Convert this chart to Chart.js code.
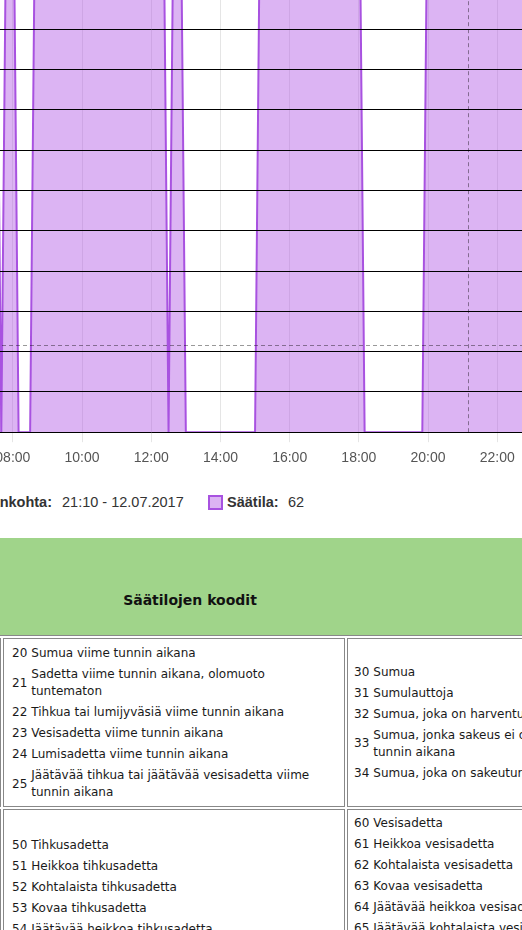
<!DOCTYPE html>
<html lang="fi">
<head>
<meta charset="utf-8">
<script src="https://cdn.jsdelivr.net/npm/chart.js@4"></script>
<style>
html,body{margin:0;padding:0;background:#fff;width:522px;height:930px;overflow:hidden;position:relative;}
#chartBox{position:absolute;left:0;top:0;}
.info{position:absolute;top:493px;line-height:18px;font-size:14.5px;font-family:'Liberation Sans',Arial,Helvetica,sans-serif;color:#333;white-space:nowrap;}
#box{position:absolute;left:208px;top:495px;width:15px;height:15px;box-sizing:border-box;border:2px solid rgb(168,82,224);background:rgba(177,88,228,0.45);}
#head{position:absolute;left:-352px;top:538px;width:1084px;height:97px;background:#a0d48a;text-align:center;box-sizing:border-box;padding-top:54px;line-height:20px;font:bold 14px 'DejaVu Sans',Verdana,sans-serif;color:#111;}
#codes{position:absolute;left:-352px;top:635px;border:1px solid #888;padding:2px;display:grid;grid-template-columns:350px 342px 382px;gap:2px;}
.cell{border:1px solid #888;padding:2px 1px;display:flex;align-items:center;box-sizing:border-box;overflow:hidden;}
.nt{border-collapse:separate;border-spacing:2px;font-size:12px;font-family:'DejaVu Sans',Verdana,sans-serif;line-height:17px;color:#1a1a1a;}
.nt td{padding:1px;vertical-align:middle;white-space:nowrap;}
.c1 .nt{margin-left:4px;margin-top:1px;}
.c2 .nt{margin-left:2px;}
</style>
</head>
<body>
<div id="chartBox"><canvas id="c" width="1000" height="900"></canvas></div>

<div class="info" style="left:-120px;width:172px;text-align:right;font-weight:bold;">Ajankohta:</div>
<div class="info" id="when" style="left:62px;"></div>
<div id="box"></div>
<div class="info" style="left:227px;font-weight:bold;">Säätila:</div>
<div class="info" id="val" style="left:288px;"></div>

<div id="head">Säätilojen koodit</div>
<div id="codes"></div>

<script>
// ---- chart data (10 minute observations, 12.07.2017) ----
const obsDate = '12.07.2017';
const times = [
 '06:00','06:10','06:20','06:30','06:40','06:50',
 '07:00','07:10','07:20','07:30','07:40','07:50',
 '08:00','08:10','08:20','08:30','08:40','08:50',
 '09:00','09:10','09:20','09:30','09:40','09:50',
 '10:00','10:10','10:20','10:30','10:40','10:50',
 '11:00','11:10','11:20','11:30','11:40','11:50',
 '12:00','12:10','12:20','12:30','12:40','12:50',
 '13:00','13:10','13:20','13:30','13:40','13:50',
 '14:00','14:10','14:20','14:30','14:40','14:50',
 '15:00','15:10','15:20','15:30','15:40','15:50',
 '16:00','16:10','16:20','16:30','16:40','16:50',
 '17:00','17:10','17:20','17:30','17:40','17:50',
 '18:00','18:10','18:20','18:30','18:40','18:50',
 '19:00','19:10','19:20','19:30','19:40','19:50',
 '20:00','20:10','20:20','20:30','20:40','20:50',
 '21:00','21:10','21:20','21:30','21:40','21:50',
 '22:00','22:10','22:20','22:30','22:40','22:50',
 '23:00'
];
const saatila = [
 61,61,62,62,61,61,
 61,62,62,61, 0,61,
 61, 0, 0, 0,61,61,
 62,62,62,63,62,62,
 62,61,61,62,62,62,
 61,61,61,62,62,61,
 61,61,61, 0,61,61,
  0, 0, 0, 0, 0, 0,
  0, 0, 0, 0, 0, 0,
  0,61,61,62,62,62,
 63,62,62,61,61,62,
 62,62,61,61,61,61,
 61, 0, 0, 0, 0, 0,
  0, 0, 0, 0, 0, 0,
 61,61,62,62,62,62,
 62,62,62,61,61,61,
 61,61,61,61,61,61,
 61
];
const tickLabels = ['00:00','02:00','04:00','06:00','08:00','10:00','12:00','14:00','16:00','18:00','20:00','22:00','24:00'];
const cursorTime = '21:10';
const cursorY = 8.6;
const X_MIN = '00:00', X_MAX = '24:00';
const Y_MAX = 72, Y_STEP = 4;

// ---- code table content ----
const codesRow1 = [
 [['00','Ei merkittäviä sääilmiöitä'],['01','Pilvisyys vähentynyt'],['02','Pilvisyys ennallaan'],['03','Pilvisyys lisääntynyt'],['04','Auerta, savua tai pölyä'],['05','Auerta, savua tai pölyä, näkyvyys alle 1 km'],['10','Utua']],
 [['20','Sumua viime tunnin aikana'],['21','Sadetta viime tunnin aikana, olomuoto<br>tuntematon'],['22','Tihkua tai lumijyväsiä viime tunnin aikana'],['23','Vesisadetta viime tunnin aikana'],['24','Lumisadetta viime tunnin aikana'],['25','Jäätävää tihkua tai jäätävää vesisadetta viime<br>tunnin aikana']],
 [['30','Sumua'],['31','Sumulauttoja'],['32','Sumua, joka on harventunut viimeisen tunnin aikana'],['33','Sumua, jonka sakeus ei ole muuttunut viimeisen<br>tunnin aikana'],['34','Sumua, joka on sakeutunut viimeisen tunnin aikana']]
];
const codesRow2 = [
 [['40','Sadetta'],['41','Heikkoa tai kohtalaista sadetta'],['42','Kovaa sadetta']],
 [['50','Tihkusadetta'],['51','Heikkoa tihkusadetta'],['52','Kohtalaista tihkusadetta'],['53','Kovaa tihkusadetta'],['54','Jäätävää heikkoa tihkusadetta'],['55','Jäätävää kohtalaista tihkusadetta'],['56','Jäätävää kovaa tihkusadetta']],
 [['60','Vesisadetta'],['61','Heikkoa vesisadetta'],['62','Kohtalaista vesisadetta'],['63','Kovaa vesisadetta'],['64','Jäätävää heikkoa vesisadetta'],['65','Jäätävää kohtalaista vesisadetta'],['66','Jäätävää kovaa vesisadetta'],['67','Heikkoa räntäsadetta'],['68','Kohtalaista tai kovaa räntäsadetta']]
];

const toMin = s => { const [h, m] = s.split(':').map(Number); return h * 60 + m; };
const fmt = v => String(Math.floor(v / 60)).padStart(2, '0') + ':' + String(v % 60).padStart(2, '0');

// table
const codesEl = document.getElementById('codes');
[codesRow1, codesRow2].forEach(row => {
  row.forEach((col, ci) => {
    const cell = document.createElement('div');
    cell.className = 'cell c' + ci;
    cell.innerHTML = '<table class="nt">' + col.map(([n, d]) => '<tr><td>' + n + '</td><td>' + d + '</td></tr>').join('') + '</table>';
    codesEl.appendChild(cell);
  });
});

// info line
document.getElementById('when').textContent = cursorTime + ' - ' + obsDate;
document.getElementById('val').textContent = String(saatila[times.indexOf(cursorTime)]);

const LINE = 'rgb(168,82,224)';
const FILL = 'rgba(177,88,228,0.45)';
const FONT = "'Liberation Sans', Arial, Helvetica, sans-serif";

const crosshair = {
  id: 'crosshair',
  afterDraw(chart) {
    const { ctx, chartArea: a, scales: { x, y } } = chart;
    const px = Math.floor(x.getPixelForValue(toMin(cursorTime))) + 0.5;
    const py = Math.floor(y.getPixelForValue(cursorY)) + 0.5;
    ctx.save();
    ctx.setLineDash([4, 3]);
    ctx.strokeStyle = 'rgba(0,0,0,0.4)';
    ctx.lineWidth = 1;
    ctx.beginPath();
    ctx.moveTo(px, a.top); ctx.lineTo(px, a.bottom);
    ctx.moveTo(a.left, py); ctx.lineTo(a.right, py);
    ctx.stroke();
    ctx.restore();
  }
};

const chart = new Chart(document.getElementById('c'), {
  type: 'line',
  data: {
    datasets: [{
      label: 'Säätila',
      data: times.map((t, i) => ({ x: toMin(t), y: saatila[i] })),
      borderColor: LINE,
      backgroundColor: FILL,
      borderWidth: 2,
      fill: 'origin',
      pointRadius: 0,
      tension: 0
    }]
  },
  options: {
    responsive: false,
    maintainAspectRatio: false,
    animation: false,
    events: [],
    layout: { padding: 0 },
    plugins: { legend: { display: false }, tooltip: { enabled: false } },
    scales: {
      x: {
        type: 'linear',
        min: toMin(X_MIN), max: toMin(X_MAX),
        afterBuildTicks: s => { s.ticks = tickLabels.map(l => ({ value: toMin(l) })); },
        ticks: { callback: v => fmt(v), font: { family: FONT, size: 14 }, color: '#555', padding: 8, maxRotation: 0, autoSkip: false },
        grid: { color: 'rgba(0,0,0,0.1)', tickLength: 10 },
        border: { display: false }
      },
      y: {
        min: 0, max: Y_MAX,
        ticks: { stepSize: Y_STEP, font: { family: FONT, size: 12 }, color: '#555' },
        grid: { color: '#000', z: 1 },
        border: { display: false },
        afterFit: s => { s.width = 40; }
      }
    }
  },
  plugins: [crosshair]
});

// size & place the chart so that its scale matches the page layout
(function place() {
  const PX_PER_HOUR = 34.6, PX_PER_STEP = 40.3;
  const a = chart.chartArea;
  const W = Math.round(chart.width - (a.right - a.left) + (toMin(X_MAX) - toMin(X_MIN)) / 60 * PX_PER_HOUR);
  const H = Math.round(chart.height - (a.bottom - a.top) + (Y_MAX / Y_STEP) * PX_PER_STEP);
  chart.resize(W, H);
  const x0 = chart.scales.x.getPixelForValue(toMin('08:00'));
  const y0 = chart.scales.y.getPixelForValue(0);
  const box = document.getElementById('chartBox');
  box.style.left = (12 - Math.floor(x0)) + 'px';
  box.style.top = (432 - Math.floor(y0)) + 'px';
})();
</script>
</body>
</html>
